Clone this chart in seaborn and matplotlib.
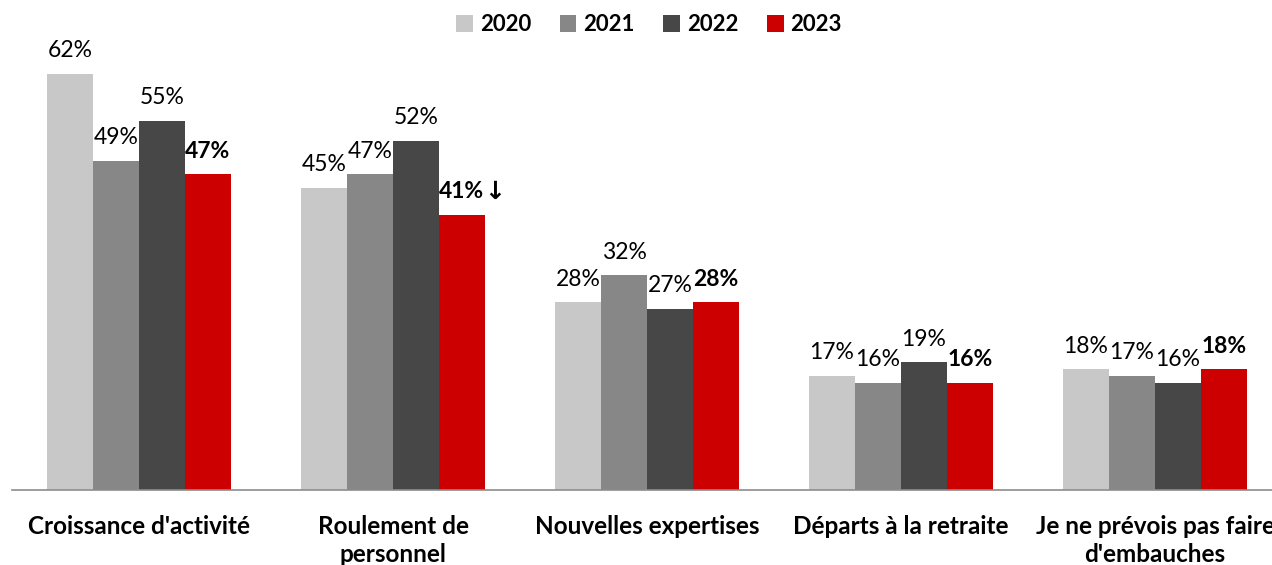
import pandas as pd
import matplotlib
matplotlib.use("Agg")
import matplotlib.pyplot as plt
import seaborn as sns

# data
categories = ["Croissance d'activité", "Roulement de\npersonnel", "Nouvelles expertises",
              "Départs à la retraite", "Je ne prévois pas faire\nd'embauches"]
years = ["2020", "2021", "2022", "2023"]
v2020 = [62, 45, 28, 17, 18]
v2021 = [49, 47, 32, 16, 17]
v2022 = [55, 52, 27, 19, 16]
v2023 = [47, 41, 28, 16, 18]
colors = ["#C8C8C8", "#878787", "#474747", "#CC0000"]

rows = []
for year, vals in zip(years, [v2020, v2021, v2022, v2023]):
    for cat, v in zip(categories, vals):
        rows.append({"cat": cat, "year": year, "value": v})
df = pd.DataFrame(rows)

sns.set_style("white")
plt.rcParams["font.family"] = ["Lato", "DejaVu Sans"]
plt.rcParams["text.color"] = "black"
plt.rcParams["xtick.labelcolor"] = "black"

fig = plt.figure(figsize=(12.72, 5.65), dpi=100)
ax = fig.add_axes([12 / 1272, 75 / 565, 1270 / 1272, 470 / 565])

sns.barplot(data=df, x="cat", y="value", hue="year", order=categories, hue_order=years,
            palette=colors, width=0.724, saturation=1, ax=ax, edgecolor="none", linewidth=0)

ax.set_xlim(-0.5, 4.5)
ax.set_ylim(0, 70)

# value labels
for i, (cont, year) in enumerate(zip(ax.containers, years)):
    for bar, v in zip(cont, [v2020, v2021, v2022, v2023][i]):
        x = bar.get_x() + bar.get_width() / 2
        txt = f"{v}%"
        weight = "bold" if year == "2023" else "normal"
        ax.annotate(txt, (x, v), xytext=(0, 9), textcoords="offset points",
                    ha="center", va="bottom", fontsize=16.5, fontweight=weight)
        if year == "2023" and v == 41 and bar.get_x() < 2:
            ax.annotate("↓", (x, v), xytext=(16, 8), textcoords="offset points",
                        ha="left", va="bottom", fontsize=18, fontweight="bold",
                        family=["DejaVu Sans"])

# axes styling
for s in ["top", "right", "left"]:
    ax.spines[s].set_visible(False)
ax.spines["bottom"].set_color("#8C8C8C")
ax.spines["bottom"].set_linewidth(1.2)
ax.set_yticks([])
ax.set_xlabel("")
ax.set_ylabel("")
ax.set_xticks(range(len(categories)))
ax.set_xticklabels(categories, fontsize=17.5, fontweight="bold", linespacing=1.25)
ax.tick_params(axis="x", which="major", length=0, pad=18)
ax.set_xticks([-0.5, 0.5, 1.5, 2.5, 3.5, 4.5], minor=True)
ax.tick_params(axis="x", which="minor", length=8, width=1.2, color="#8C8C8C")
ax.grid(False)

leg = ax.legend(loc="upper center", bbox_to_anchor=(637 / 1270, 1.055), ncol=4, frameon=False,
                handlelength=0.75, handleheight=0.75, handletextpad=0.3, columnspacing=1.3,
                prop={"weight": "bold", "size": 16})

fig.savefig("out.png", dpi=100)
